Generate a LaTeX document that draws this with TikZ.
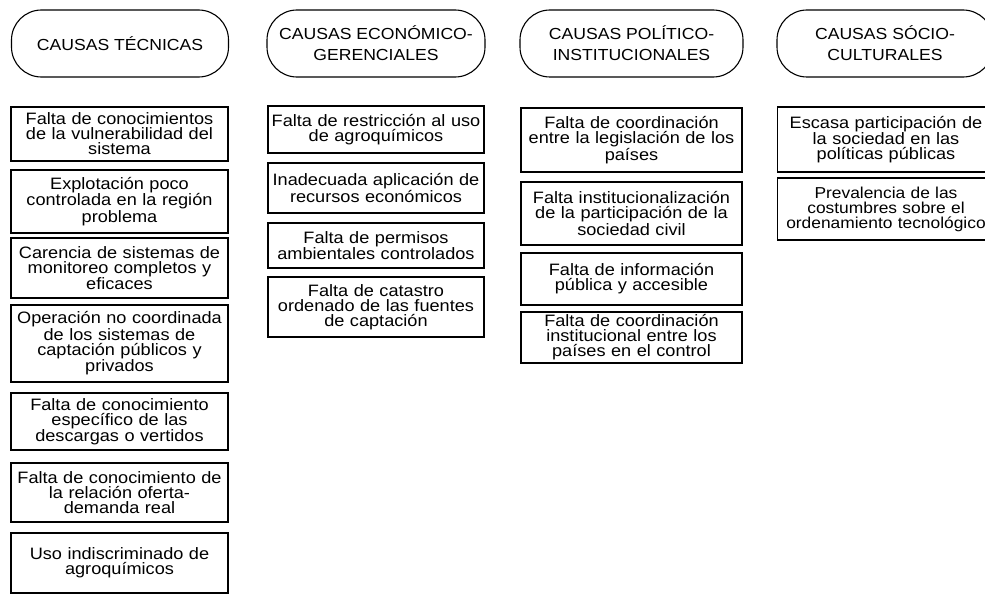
\documentclass[tikz,border=0pt]{standalone}
\usepackage{fontspec}
\setmainfont[FakeStretch=1.1]{Liberation Sans}
\usepackage{tikz}

\begin{document}
\begin{tikzpicture}[x=1pt, y=-1pt, line width=1.1pt]

\tikzstyle{grupo} = [rectangle, draw, rounded corners=30pt,
                      minimum width=217pt, minimum height=67pt,
                      inner sep=0pt, align=center,
                      font=\fontsize{16}{21}\selectfont]
\tikzstyle{causa} = [rectangle, draw, text width=217pt,
                      inner sep=0pt, align=center,
                      font=\fontsize{16.5}{15}\selectfont]

\useasboundingbox (0,0) rectangle (985,594);

% ── Encabezados ───────────────────────────────────────
\node[grupo] (tec) at (120,43.5)   {CAUSAS TÉCNICAS};
\node[grupo, minimum width=218pt] (eco) at (376,43.5) {CAUSAS ECONÓMICO-\\GERENCIALES};
\node[grupo, minimum width=223pt] (pol) at (631.5,43.5) {CAUSAS POLÍTICO-\\INSTITUCIONALES};
\node[grupo, minimum width=216pt] (soc) at (885,43.5) {CAUSAS SÓCIO-\\CULTURALES};

% ── Columna 1: técnicas ───────────────────────────────
\node[causa, minimum height=54pt] (tec1) at (119.5,134)   {Falta de conocimientos\\de la vulnerabilidad del\\sistema};
\node[causa, minimum height=63pt] (tec2) at (119.5,201.5) {Explotación poco\\controlada en la región\\problema};
\node[causa, minimum height=60pt] (tec3) at (119.5,268)   {Carencia de sistemas de\\monitoreo completos y\\eficaces};
\node[causa, minimum height=77pt] (tec4) at (119.5,343.5) {Operación no coordinada\\de los sistemas de\\captación públicos y\\privados};
\node[causa, minimum height=57pt] (tec5) at (119.5,421.5) {Falta de conocimiento\\específico de las\\descargas o vertidos};
\node[causa, minimum height=59pt] (tec6) at (119.5,492.5) {Falta de conocimiento de\\la relación oferta-\\demanda real};
\node[causa, minimum height=60pt] (tec7) at (119.5,563)   {Uso indiscriminado de\\agroquímicos};

% ── Columna 2: económico-gerenciales ──────────────────
\node[causa, text width=216pt, minimum height=47pt] (eco1) at (376,129.5) {Falta de restricción al uso\\de agroquímicos};
\node[causa, text width=216pt, minimum height=50pt] (eco2) at (376,188)   {Inadecuada aplicación de\\recursos económicos};
\node[causa, text width=216pt, minimum height=45pt] (eco3) at (376,245.5) {Falta de permisos\\ambientales controlados};
\node[causa, text width=216pt, minimum height=60pt] (eco4) at (376,307)   {Falta de catastro\\ordenado de las fuentes\\de captación};

% ── Columna 3: político-institucionales ───────────────
\node[causa, text width=221pt, minimum height=64pt] (pol1) at (631.5,140)   {Falta de coordinación\\entre la legislación de los\\países};
\node[causa, text width=221pt, minimum height=63pt] (pol2) at (631.5,213.5) {Falta institucionalización\\de la participación de la\\sociedad civil};
\node[causa, text width=221pt, minimum height=52pt] (pol3) at (631.5,279)   {Falta de información\\pública y accesible};
\node[causa, text width=221pt, minimum height=51pt] (pol4) at (631.5,337.5) {Falta de coordinación\\institucional entre los\\países en el control};

% ── Columna 4: sócio-culturales ───────────────────────
\node[causa, minimum height=65pt] (soc1) at (886,139.5) {Escasa participación de\\la sociedad en las\\políticas públicas};
\node[causa, minimum height=62pt, font=\fontsize{15.8}{15}\selectfont] (soc2) at (886,209) {Prevalencia de las\\costumbres sobre el\\ordenamiento tecnológico};

\end{tikzpicture}
\end{document}
